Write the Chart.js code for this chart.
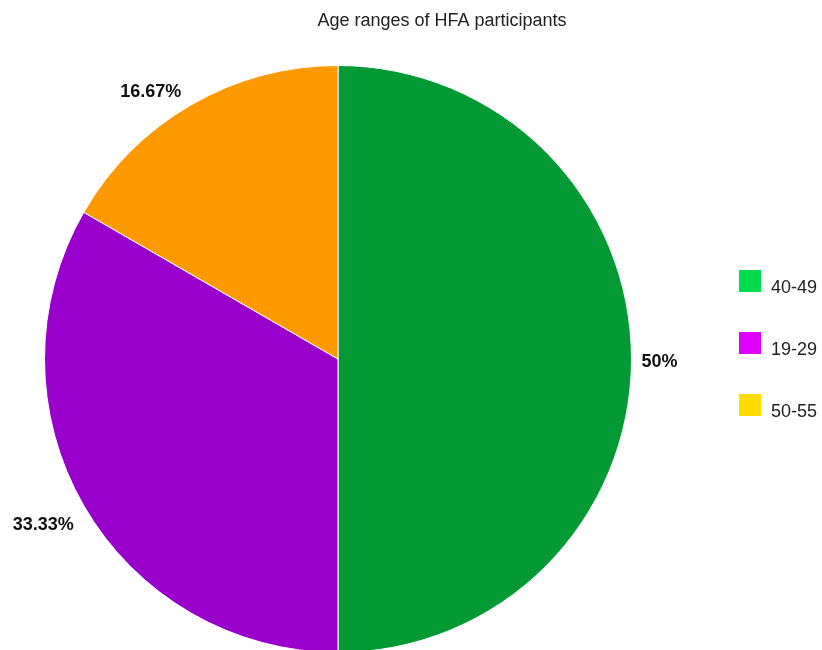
<!DOCTYPE html>
<html>
<head>
<meta charset="utf-8">
<title>Age ranges of HFA participants</title>
<script src="https://cdn.jsdelivr.net/npm/chart.js@4/dist/chart.umd.min.js"></script>
<style>
  html, body { margin: 0; padding: 0; background: #ffffff; overflow: hidden; }
  #wrap { position: relative; width: 822px; height: 660px; }
</style>
</head>
<body>
<div id="wrap"><canvas id="chart" width="822" height="660"></canvas></div>
<script>
// Chart data
const chartTitle = 'Age ranges of HFA participants';
const categories = ['40-49', '19-29', '50-55'];
const shares = [50, 33.33, 16.67];          // percent of participants
const sliceColors = ['#039a35', '#9900cc', '#ff9900'];
const legendColors = ['#00dc4e', '#dc00ff', '#ffdc00'];

const FONT = '"Liberation Sans", Arial, Helvetica, sans-serif';

function formatPercent(v) {
  return (Math.round(v * 100) / 100).toString() + '%';
}

// Title, drawn centred over the chart + legend block
const titlePlugin = {
  id: 'plainTitle',
  afterDraw(chart) {
    const ctx = chart.ctx;
    ctx.save();
    ctx.font = '18px ' + FONT;
    ctx.fillStyle = '#222222';
    ctx.textAlign = 'center';
    ctx.textBaseline = 'alphabetic';
    ctx.fillText(chartTitle, 442, 26);
    ctx.restore();
  }
};

// Percent labels placed just outside each slice's mid-angle
const sliceLabels = {
  id: 'sliceLabels',
  afterDatasetsDraw(chart) {
    const ctx = chart.ctx;
    const meta = chart.getDatasetMeta(0);
    const values = chart.data.datasets[0].data;
    ctx.save();
    ctx.font = 'bold 18px ' + FONT;
    ctx.fillStyle = '#111111';
    ctx.textBaseline = 'alphabetic';
    meta.data.forEach((arc, i) => {
      const p = arc.getProps(['x', 'y', 'startAngle', 'endAngle', 'outerRadius'], true);
      const mid = (p.startAngle + p.endAngle) / 2;
      const dx = Math.cos(mid), dy = Math.sin(mid);
      const ex = p.x + dx * p.outerRadius;
      const ey = p.y + dy * p.outerRadius;
      const right = dx >= 0;
      const tx = ex + (right ? 10 : -10);
      const yc = ey + 16 * Math.max(-1, Math.min(1, dy * 2)) + 2;
      ctx.textAlign = right ? 'left' : 'right';
      ctx.fillText(formatPercent(values[i]), tx, yc + 6.4);
    });
    ctx.restore();
  }
};

// Legend on the right: square swatch + category label
const sideLegend = {
  id: 'sideLegend',
  afterDraw(chart) {
    const ctx = chart.ctx;
    const x0 = 739, y0 = 270, box = 22, step = 62;
    ctx.save();
    ctx.font = '18px ' + FONT;
    ctx.textAlign = 'left';
    ctx.textBaseline = 'alphabetic';
    chart.data.labels.forEach((lab, i) => {
      const y = y0 + i * step;
      ctx.fillStyle = legendColors[i];
      ctx.fillRect(x0, y, box, box);
      ctx.fillStyle = '#222222';
      ctx.fillText(lab, x0 + 32, y + box + 1);
    });
    ctx.restore();
  }
};

new Chart(document.getElementById('chart'), {
  type: 'pie',
  data: {
    labels: categories,
    datasets: [{
      data: shares,
      backgroundColor: sliceColors,
      borderColor: '#ffffff',
      borderWidth: 1
    }]
  },
  options: {
    responsive: false,
    animation: false,
    layout: { padding: { left: 44, right: 190, top: 65, bottom: 7 } },
    plugins: {
      legend: { display: false },
      title: { display: false },
      tooltip: { enabled: false }
    }
  },
  plugins: [titlePlugin, sliceLabels, sideLegend]
});
</script>
</body>
</html>
